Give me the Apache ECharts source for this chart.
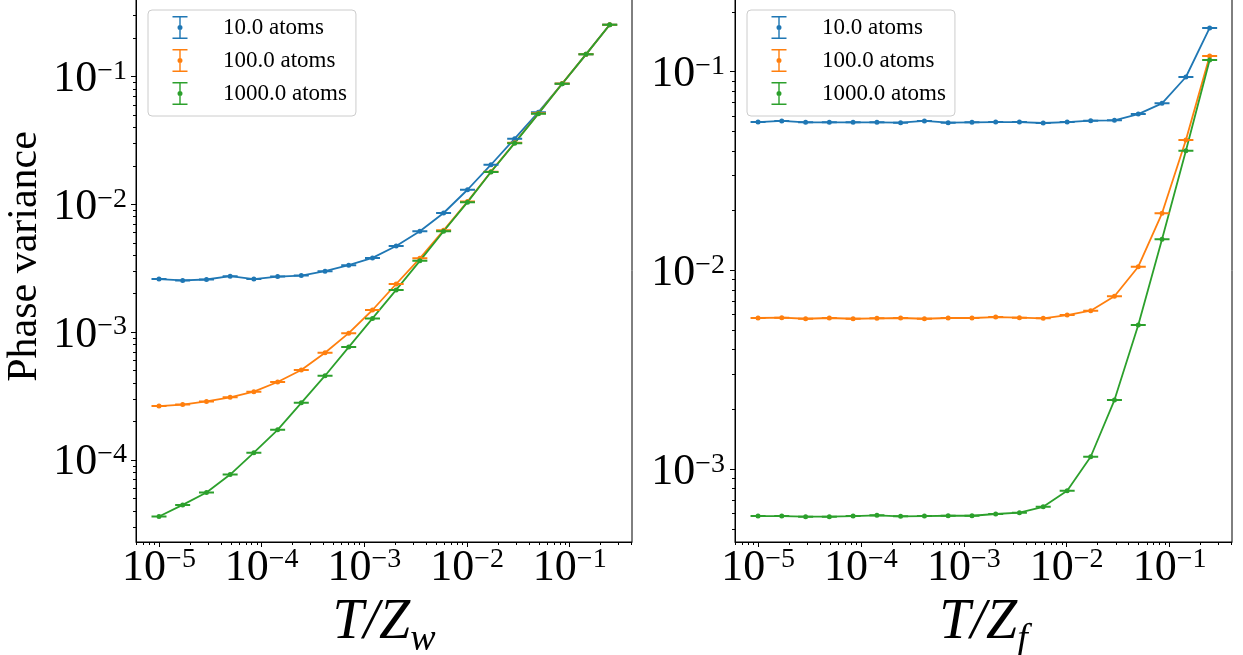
<!DOCTYPE html>
<html>
<head>
<meta charset="utf-8">
<script src="https://cdn.jsdelivr.net/npm/echarts@6/dist/echarts.min.js"></script>
<style>
html,body{margin:0;padding:0;background:#fff;}
#chart{width:1243px;height:655px;}
</style>
</head>
<body>
<div id="chart"></div>
<script>
// ---- data ----
const seriesNames = ['10.0 atoms', '100.0 atoms', '1000.0 atoms'];
const colors = ['#1f77b4', '#ff7f0e', '#2ca02c'];
const xVals = [1.0e-5, 1.70e-5, 2.90e-5, 4.93e-5, 8.39e-5, 1.43e-4, 2.43e-4, 4.14e-4, 7.04e-4, 1.20e-3,
               2.04e-3, 3.47e-3, 5.91e-3, 1.01e-2, 1.71e-2, 2.91e-2, 4.96e-2, 8.44e-2, 0.144, 0.245];
// left panel (T/Z_w)
const wBlue   = [2.60e-3, 2.54e-3, 2.58e-3, 2.74e-3, 2.60e-3, 2.72e-3, 2.77e-3, 3.00e-3, 3.34e-3, 3.81e-3,
                 4.72e-3, 6.15e-3, 8.55e-3, 1.30e-2, 2.04e-2, 3.26e-2, 5.26e-2, 8.77e-2, 0.149, 0.254];
const wOrange = [2.64e-4, 2.71e-4, 2.87e-4, 3.09e-4, 3.42e-4, 4.07e-4, 5.05e-4, 6.89e-4, 9.82e-4, 1.49e-3,
                 2.38e-3, 3.78e-3, 6.26e-3, 1.05e-2, 1.80e-2, 3.03e-2, 5.15e-2, 8.80e-2, 0.149, 0.254];
const wGreen  = [3.61e-5, 4.45e-5, 5.56e-5, 7.68e-5, 1.14e-4, 1.72e-4, 2.80e-4, 4.56e-4, 7.64e-4, 1.28e-3,
                 2.14e-3, 3.61e-3, 6.15e-3, 1.04e-2, 1.79e-2, 3.01e-2, 5.12e-2, 8.77e-2, 0.149, 0.254];
// right panel (T/Z_f)
const fBlue   = [5.58e-2, 5.65e-2, 5.56e-2, 5.56e-2, 5.56e-2, 5.56e-2, 5.54e-2, 5.65e-2, 5.54e-2, 5.56e-2,
                 5.58e-2, 5.58e-2, 5.52e-2, 5.58e-2, 5.67e-2, 5.69e-2, 6.12e-2, 6.93e-2, 9.40e-2, 0.166];
const fOrange = [5.77e-3, 5.79e-3, 5.72e-3, 5.77e-3, 5.72e-3, 5.75e-3, 5.77e-3, 5.72e-3, 5.77e-3, 5.77e-3,
                 5.83e-3, 5.79e-3, 5.75e-3, 5.97e-3, 6.28e-3, 7.42e-3, 1.045e-2, 1.94e-2, 4.53e-2, 0.120];
const fGreen  = [5.82e-4, 5.82e-4, 5.78e-4, 5.78e-4, 5.82e-4, 5.87e-4, 5.80e-4, 5.82e-4, 5.84e-4, 5.84e-4,
                 5.96e-4, 6.05e-4, 6.48e-4, 7.81e-4, 1.157e-3, 2.23e-3, 5.32e-3, 1.435e-2, 4.00e-2, 0.1145];
// ticks
const xMajor  = [1e-5, 1e-4, 1e-3, 1e-2, 1e-1];
const yMajorW = [1e-4, 1e-3, 1e-2, 1e-1];
const yMajorF = [1e-3, 1e-2, 1e-1];
const xTitleW = '{i|T/Z}{s|w}';
const xTitleF = '{i|T/Z}{s|f}';
const yTitle = 'Phase variance';

// ---- ranges ----
const X_MIN = 5.97e-6, X_MAX = 0.404;
const YW_MIN = 2.28e-5, YW_MAX = 0.404;
const YF_MIN = 4.31e-4, YF_MAX = 0.232;

function minorTicks(lo, hi) {
  const out = [];
  for (let k = -7; k <= 0; k++) {
    for (let m = 2; m <= 9; m++) {
      const v = m * Math.pow(10, k);
      if (v >= lo && v <= hi) out.push(v);
    }
  }
  return out;
}

const FONT = 'Liberation Serif';
const tickRich = {
  b: {fontFamily: FONT, fontSize: 44, lineHeight: 44, color: '#000'},
  s: {fontFamily: FONT, fontSize: 28, lineHeight: 28, verticalAlign: 'top', color: '#000'}
};
function logFmt(v) {
  const e = Math.round(Math.log10(v));
  return '{b|10}{s|' + String(e).replace('-', '\u2212') + '}';
}
const titleRich = {
  i: {fontFamily: FONT, fontStyle: 'italic', fontSize: 56, lineHeight: 60, verticalAlign: 'top', color: '#000'},
  s: {fontFamily: FONT, fontStyle: 'italic', fontSize: 38, lineHeight: 30, verticalAlign: 'top', padding: [26, 0, 0, 0], color: '#000'}
};

function majorX(grid, name) {
  return {
    type: 'log', logBase: 10, gridIndex: grid, min: X_MIN, max: X_MAX, position: 'bottom',
    axisLine: {show: true, lineStyle: {color: '#000', width: 1}},
    axisTick: {show: true, customValues: xMajor, length: 5, lineStyle: {color: '#000', width: 1}},
    axisLabel: {show: true, customValues: xMajor, formatter: logFmt, rich: tickRich, margin: 4},
    splitLine: {show: false},
    name: name, nameLocation: 'middle', nameGap: 36,
    nameTextStyle: {rich: titleRich}
  };
}
function minorX(grid) {
  return {
    type: 'log', logBase: 10, gridIndex: grid, min: X_MIN, max: X_MAX, position: 'bottom',
    axisLine: {show: false},
    axisTick: {show: true, customValues: minorTicks(X_MIN, X_MAX), length: 3, lineStyle: {color: '#000', width: 1}},
    axisLabel: {show: false},
    splitLine: {show: false}
  };
}
function majorY(grid, lo, hi, majors, margin, withName) {
  const ax = {
    type: 'log', logBase: 10, gridIndex: grid, min: lo, max: hi, position: 'left',
    axisLine: {show: true, lineStyle: {color: '#000', width: 1}},
    axisTick: {show: true, customValues: majors, length: 5, lineStyle: {color: '#000', width: 1}},
    axisLabel: {show: true, customValues: majors, formatter: logFmt, rich: tickRich, margin: margin, padding: [6, 0, 0, 0]},
    splitLine: {show: false}
  };
  if (withName) {
    ax.name = yTitle;
    ax.nameLocation = 'middle';
    ax.nameGap = 90;
    ax.nameTextStyle = {fontFamily: FONT, fontSize: 42, color: '#000', padding: [0, 0, 0, 28]};
  }
  return ax;
}
function minorY(grid, lo, hi) {
  return {
    type: 'log', logBase: 10, gridIndex: grid, min: lo, max: hi, position: 'left',
    axisLine: {show: false},
    axisTick: {show: true, customValues: minorTicks(lo, hi), length: 3, lineStyle: {color: '#000', width: 1}},
    axisLabel: {show: false},
    splitLine: {show: false}
  };
}

const SYMBOL = 'path://M0,1.5 H15 V3.5 H0 Z M5,2.5 A2.5,2.5 0 1,1 10,2.5 A2.5,2.5 0 1,1 5,2.5 Z';
const LEGEND_ICON = 'path://M0,11.5 L0.01,11.5 L0,11.51 Z M62,11.5 L61.99,11.5 L62,11.51 Z ' +
  'M16.5,0 H31.5 V1.5 H16.5 Z M16.5,21.5 H31.5 V23 H16.5 Z M23.3,1.5 H24.7 V21.5 H23.3 Z ' +
  'M21.5,11.5 A2.5,2.5 0 1,1 26.5,11.5 A2.5,2.5 0 1,1 21.5,11.5 Z';

function mkSeries(name, color, ys, xIdx, yIdx) {
  return {
    type: 'line', name: name, xAxisIndex: xIdx, yAxisIndex: yIdx,
    data: xVals.map((x, i) => [x, ys[i]]),
    symbol: SYMBOL, symbolSize: [15, 5], showSymbol: true,
    lineStyle: {color: color, width: 1.8},
    itemStyle: {color: color, borderWidth: 0},
    emphasis: {disabled: true},
    z: 2
  };
}

function mkLegend(left) {
  return {
    orient: 'vertical', left: left, top: 10,
    padding: [6, 9, 11, 8],
    itemWidth: 62, itemHeight: 23, itemGap: 10,
    icon: LEGEND_ICON,
    backgroundColor: 'rgba(255,255,255,0.8)', borderColor: '#cccccc', borderWidth: 1, borderRadius: 4,
    textStyle: {fontFamily: FONT, fontSize: 23, color: '#000'},
    itemStyle: {borderWidth: 0},
    selectedMode: false,
    data: seriesNames
  };
}

const chart = echarts.init(document.getElementById('chart'), null, {renderer: 'canvas'});
chart.setOption({
  animation: false,
  backgroundColor: '#fff',
  grid: [
    {left: 136, right: 611, top: -1, bottom: 113, show: true, borderColor: '#000', borderWidth: 1,
     backgroundColor: 'transparent', containLabel: false, outerBoundsMode: 'none'},
    {left: 735, right: 11, top: -1, bottom: 113, show: true, borderColor: '#000', borderWidth: 1,
     backgroundColor: 'transparent', containLabel: false, outerBoundsMode: 'none'}
  ],
  xAxis: [majorX(0, xTitleW), minorX(0), majorX(1, xTitleF), minorX(1)],
  yAxis: [majorY(0, YW_MIN, YW_MAX, yMajorW, 9, true), minorY(0, YW_MIN, YW_MAX),
          majorY(1, YF_MIN, YF_MAX, yMajorF, 10, false), minorY(1, YF_MIN, YF_MAX)],
  legend: [mkLegend(148), mkLegend(747)],
  series: [
    mkSeries(seriesNames[0], colors[0], wBlue, 0, 0),
    mkSeries(seriesNames[1], colors[1], wOrange, 0, 0),
    mkSeries(seriesNames[2], colors[2], wGreen, 0, 0),
    mkSeries(seriesNames[0], colors[0], fBlue, 2, 2),
    mkSeries(seriesNames[1], colors[1], fOrange, 2, 2),
    mkSeries(seriesNames[2], colors[2], fGreen, 2, 2)
  ]
});
</script>
</body>
</html>
